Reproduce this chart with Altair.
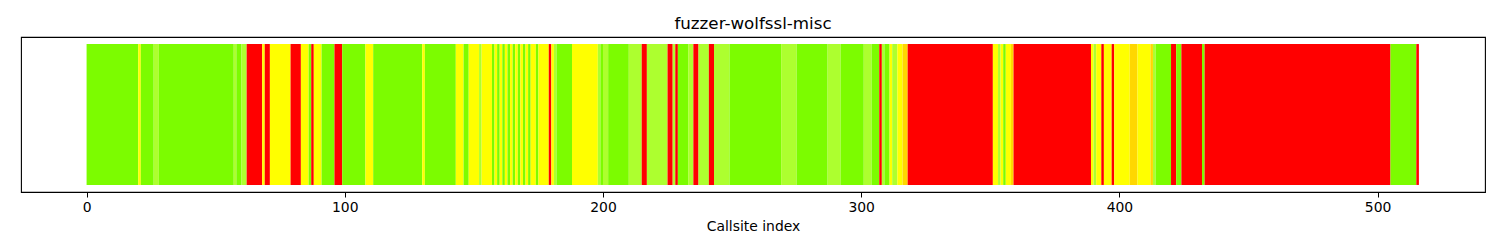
import altair as alt
import pandas as pd

# Runs of consecutive callsites sharing a colour (start inclusive, end exclusive)
seg_start = [0, 20, 21, 26, 28, 57, 58, 60, 62, 68, 69, 71, 79, 83, 86, 87, 88, 91, 96, 99,
             108, 111, 130, 131, 143, 146, 148, 152, 153,
             157, 158, 159, 160, 161, 162, 163, 164, 165, 166, 167, 168, 169, 170, 171,
             172, 174, 175, 179, 180, 181, 182, 188, 198, 199, 200, 202, 210, 215, 217,
             225, 227, 228, 229, 233, 235, 237, 241, 243, 249, 269, 275, 287, 292, 301,
             304, 307, 308, 309, 311, 312, 314, 316, 318, 351, 353, 354, 355, 356, 358,
             359, 389, 390, 391, 393, 394, 397, 398, 404, 407, 412, 413, 414, 420, 422,
             424, 432, 433, 505, 515]
seg_color = ["lawngreen", "yellow", "lawngreen", "greenyellow", "lawngreen", "greenyellow",
             "lawngreen", "greenyellow", "red", "yellow", "red", "yellow", "red", "yellow",
             "lawngreen", "red", "yellow", "lawngreen", "red", "lawngreen",
             "yellow", "lawngreen", "yellow", "lawngreen", "yellow", "lawngreen", "yellow",
             "greenyellow", "yellow",
             "lawngreen", "yellow", "lawngreen", "yellow", "lawngreen", "yellow", "lawngreen",
             "yellow", "lawngreen", "yellow", "lawngreen", "yellow", "lawngreen", "yellow",
             "lawngreen",
             "yellow", "lawngreen", "yellow", "red", "yellow", "greenyellow", "lawngreen",
             "yellow", "greenyellow", "lawngreen", "greenyellow", "lawngreen", "greenyellow",
             "red", "greenyellow",
             "red", "greenyellow", "red", "lawngreen", "greenyellow", "red", "greenyellow",
             "red", "greenyellow", "lawngreen", "greenyellow", "lawngreen", "greenyellow",
             "lawngreen", "greenyellow",
             "lawngreen", "red", "greenyellow", "lawngreen", "yellow", "greenyellow", "yellow",
             "gold", "red", "yellow", "greenyellow", "yellow", "lawngreen", "yellow", "gold",
             "red", "yellow", "greenyellow", "yellow", "red", "yellow", "red", "yellow", "gold",
             "yellow", "gold", "greenyellow", "lawngreen", "red", "lawngreen",
             "red", "lawngreen", "red", "lawngreen", "red"]
n_callsites = 516

seg_end = seg_start[1:] + [n_callsites]

color_names = ["red", "gold", "yellow", "greenyellow", "lawngreen"]
color_hex = ["#FF0000", "#FFD700", "#FFFF00", "#ADFF2F", "#7CFC00"]

df = pd.DataFrame({"start": seg_start, "end": seg_end, "color": seg_color})

x_ticks = [0, 100, 200, 300, 400, 500]

chart = alt.Chart(df).mark_rect(strokeWidth=0).encode(
    x=alt.X("start:Q",
            scale=alt.Scale(domain=[-25.4, 541.6], nice=False, zero=False),
            axis=alt.Axis(title="Callsite index", values=x_ticks, grid=False,
                          domain=False, tickColor="black", tickSize=5, tickWidth=1,
                          labelColor="black", labelFontSize=13.9, labelFont="DejaVu Sans",
                          labelPadding=3, titleFont="DejaVu Sans", titleFontSize=13.9,
                          titleFontWeight="normal", titleColor="black", titlePadding=6,
                          labelFlush=False)),
    x2="end:Q",
    y=alt.Y(datum=0, scale=alt.Scale(domain=[-0.05, 1.05], nice=False, zero=False), axis=None),
    y2=alt.datum(1),
    color=alt.Color("color:N", scale=alt.Scale(domain=color_names, range=color_hex), legend=None),
).properties(
    width=1464,
    height=155,
    title=alt.TitleParams("fuzzer-wolfssl-misc", font="DejaVu Sans", fontSize=16.7,
                          fontWeight="normal", color="black", offset=4, anchor="middle"),
    autosize=alt.AutoSizeParams(type="none"),
    padding={"left": 21, "top": 37, "right": 15, "bottom": 58},
).configure_view(
    stroke="black", strokeWidth=1.1
)

chart.save("out.html", embed_options={"renderer": "svg", "actions": False})
